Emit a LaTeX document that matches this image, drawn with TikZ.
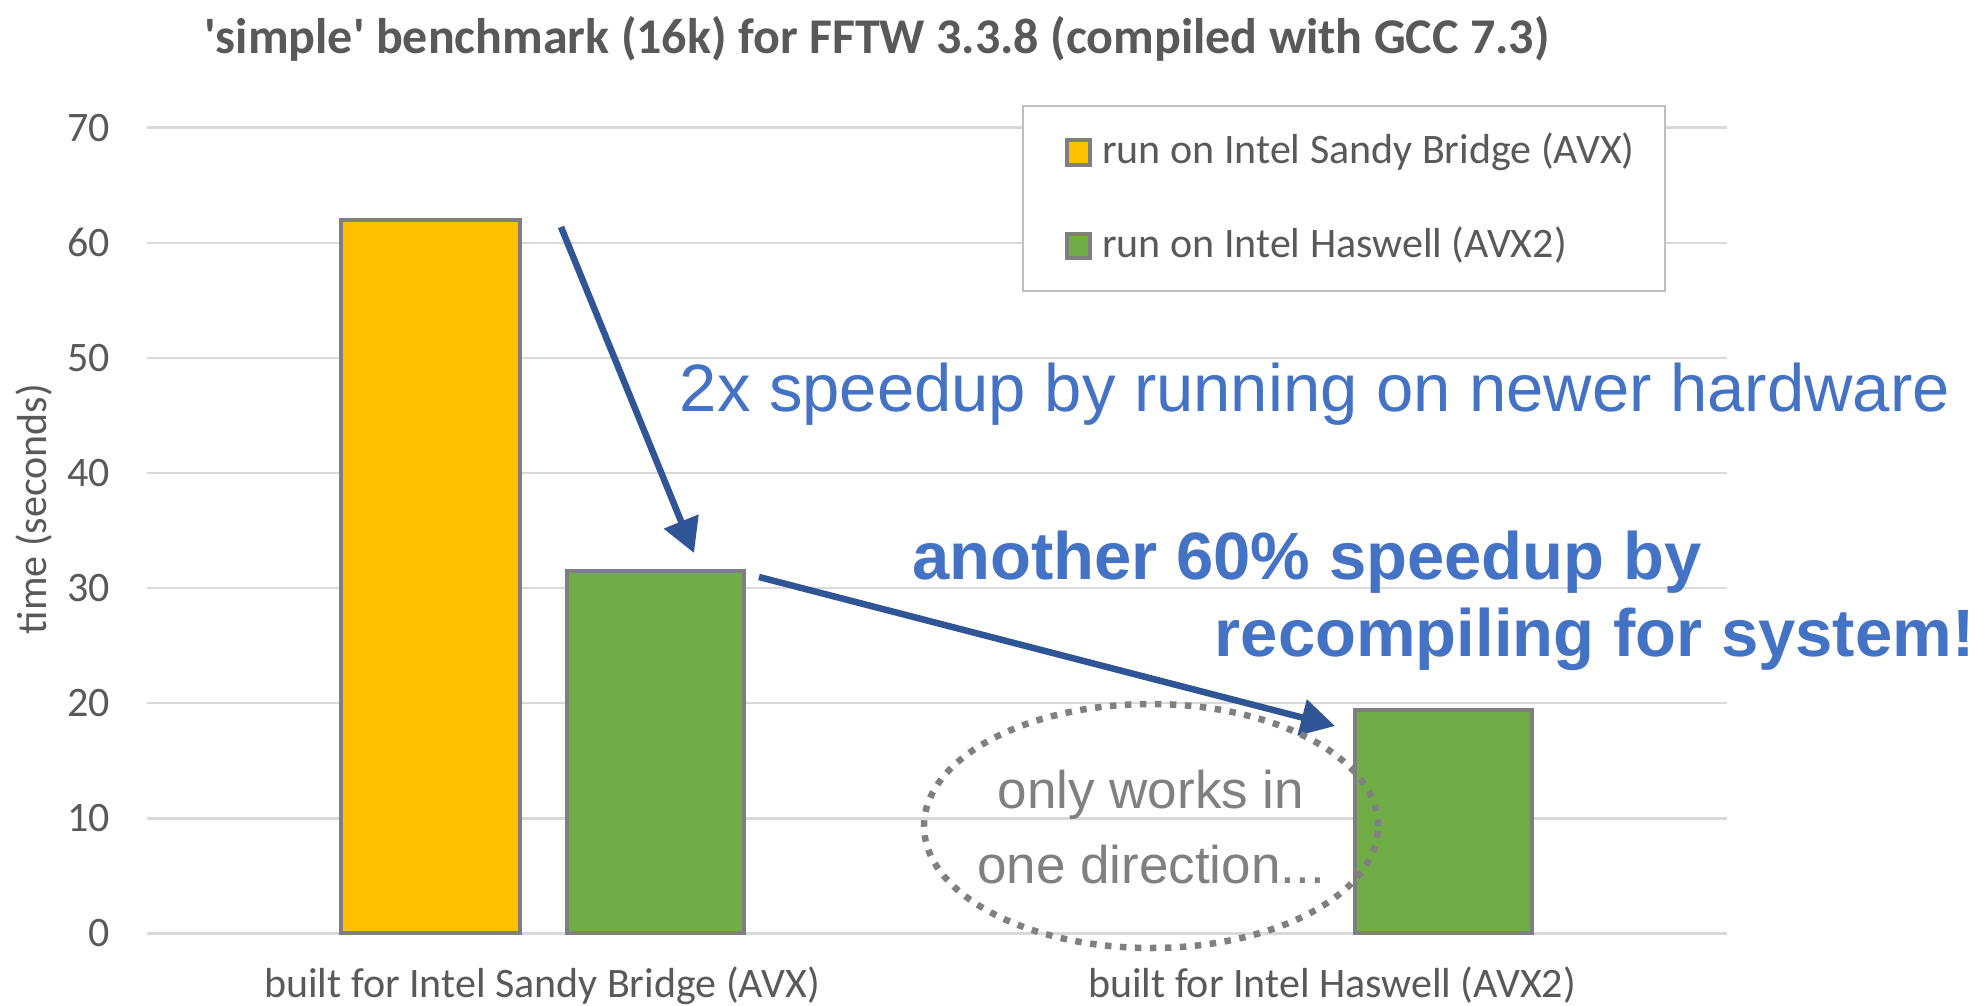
\documentclass[tikz,border=0pt]{standalone}
\usepackage{fontspec}
\setmainfont{Carlito}
\newfontfamily\arialfont{Liberation Sans}
\usetikzlibrary{arrows.meta,shapes.geometric}
\definecolor{gridc}{HTML}{D9D9D9}
\definecolor{txtc}{HTML}{595959}
\definecolor{barborder}{HTML}{7F7F7F}
\definecolor{yellowbar}{HTML}{FFC000}
\definecolor{greenbar}{HTML}{70AD47}
\definecolor{bluetxt}{HTML}{4472C4}
\definecolor{arrowc}{HTML}{2F5597}
\definecolor{notec}{HTML}{808080}
\definecolor{legborder}{HTML}{BFBFBF}
\tikzset{
  gridline/.style={draw=gridc, line width=2.5pt},
  ticklbl/.style={anchor=base east, inner sep=0pt, text=txtc, font=\fontsize{42}{50}\selectfont},
  catlbl/.style={anchor=base, inner sep=0pt, text=txtc, font=\fontsize{42}{50}\selectfont},
  leglbl/.style={anchor=base west, inner sep=0pt, text=txtc, font=\fontsize{42}{50}\selectfont},
  bar/.style={draw=barborder, line width=4pt},
  legmark/.style={draw=barborder, line width=4pt, minimum width=23pt, minimum height=24pt, inner sep=0pt},
  bigarrow/.style={draw=arrowc, line width=6.5pt, -{Triangle[length=34pt, width=36pt]}},
  bluelbl/.style={anchor=base west, inner sep=0pt, text=bluetxt, font=\arialfont\fontsize{67}{80}\selectfont},
  boldbluelbl/.style={anchor=base west, inner sep=0pt, text=bluetxt, font=\arialfont\bfseries\fontsize{67}{80}\selectfont},
  notelbl/.style={anchor=base, inner sep=0pt, text=notec, font=\arialfont\fontsize{53}{60}\selectfont},
  dottedoval/.style={draw=notec, ellipse, line width=6.5pt, dash pattern=on 6.5pt off 8.5pt, minimum width=454pt, minimum height=244pt, inner sep=0pt}
}
\begin{document}
\begin{tikzpicture}[x=1pt,y=-1pt]
\useasboundingbox (0,0) rectangle (1975,1006);
\fill[white] (0,0) rectangle (1975,1006);
% title
\node[anchor=base west, inner sep=0pt, text=txtc, font=\bfseries\fontsize{50}{60}\selectfont] (title) at (204,54) {\textquotesingle simple\textquotesingle{} benchmark (16k) for FFTW 3.3.8 (compiled with GCC 7.3)};
% gridlines and tick labels
\foreach \v in {0,10,...,70}{
  \pgfmathsetmacro{\yy}{933.4-11.51*\v}
  \draw[gridline] (147,\yy) -- (1727,\yy);
  \node[ticklbl] (tick\v) at (110,\yy+13.5) {\v};
}
% y axis label
\node[rotate=90, inner sep=0pt, text=txtc, font=\fontsize{42}{50}\selectfont] (ylabel) at (34,509) {time (seconds)};
% bars
\draw[bar, fill=yellowbar] (341,933.4) rectangle (520,220);
\draw[bar, fill=greenbar] (566.5,933.4) rectangle (744,571);
\draw[bar, fill=greenbar] (1355,933.4) rectangle (1532,710);
% category labels
\node[catlbl] (cat1) at (542,997) {built for Intel Sandy Bridge (AVX)};
\node[catlbl] (cat2) at (1332,997) {built for Intel Haswell (AVX2)};
% legend
\node[draw=legborder, fill=white, line width=2pt, minimum width=642pt, minimum height=185pt, inner sep=0pt] (legend) at (1344,198.5) {};
\node[legmark, fill=yellowbar] (lm1) at (1078.5,152.5) {};
\node[legmark, fill=greenbar] (lm2) at (1078.5,245.5) {};
\node[leglbl] (lt1) at (1102,163.4) {run on Intel Sandy Bridge (AVX)};
\node[leglbl] (lt2) at (1102,257) {run on Intel Haswell (AVX2)};
% arrows
\coordinate (a1s) at (561,227);
\coordinate (a1e) at (694,553);
\coordinate (a2s) at (759,577);
\coordinate (a2e) at (1335,726);
\draw[bigarrow] (a1s) -- (a1e);
\draw[bigarrow] (a2s) -- (a2e);
% annotations
\node[bluelbl] (note1) at (679.6,411.7) {2x speedup by running on newer hardware};
\node[boldbluelbl] (note2a) at (912,579) {another 60\% speedup by};
\node[boldbluelbl] (note2b) at (1214.7,656.7) {recompiling for system!};
% dotted oval
\node[dottedoval] (oval) at (1151,826) {};
\node[notelbl] (ov1) at (1151,808) {only works in};
\node[notelbl] (ov2) at (1151,883) {one direction...};
\end{tikzpicture}
\end{document}
